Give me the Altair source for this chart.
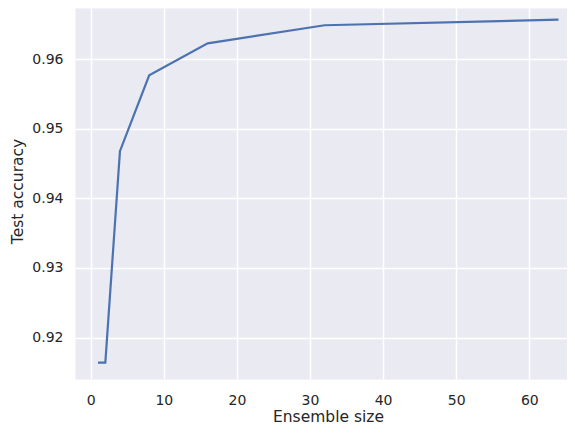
import altair as alt
import pandas as pd

ensemble_size = [1, 2, 4, 8, 16, 32, 64]
test_accuracy = [0.9164, 0.9164, 0.9468, 0.9577, 0.9623, 0.9649, 0.9657]
x_ticks = [0, 10, 20, 30, 40, 50, 60]
y_ticks = [0.92, 0.93, 0.94, 0.95, 0.96]

df = pd.DataFrame({"Ensemble size": ensemble_size, "Test accuracy": test_accuracy})

FONT = "DejaVu Sans"
TXT = "#262626"

chart = alt.Chart(df).mark_line(color="#4C72B0", strokeWidth=2.2).encode(
    x=alt.X(
        "Ensemble size:Q",
        scale=alt.Scale(domain=[-2.15, 65.16], nice=False, zero=False),
        axis=alt.Axis(
            values=x_ticks,
            title="Ensemble size",
            labelBaseline="alphabetic",
            labelPadding=25,
            titleX=253,
            titleY=42,
            titleBaseline="alphabetic",
            titleAlign="center",
        ),
    ),
    y=alt.Y(
        "Test accuracy:Q",
        scale=alt.Scale(domain=[0.91404, 0.96738], nice=False, zero=False),
        axis=alt.Axis(
            values=y_ticks,
            format=".2f",
            title="Test accuracy",
            labelPadding=12,
            titleAngle=270,
            titleX=-53,
            titleY=183,
            titleBaseline="alphabetic",
            titleAlign="center",
        ),
    ),
).properties(
    width=492,
    height=371,
    autosize=alt.AutoSizeParams(type="none"),
    padding={"left": 67, "top": 0, "right": 0, "bottom": 46},
).configure_view(
    fill="#EAEAF2", stroke="transparent"
).configure_axis(
    domain=False,
    ticks=False,
    grid=True,
    gridColor="white",
    gridWidth=1.5,
    labelFont=FONT,
    labelFontSize=14,
    labelColor=TXT,
    titleFont=FONT,
    titleFontSize=15.5,
    titleFontWeight="normal",
    titleColor=TXT,
)

chart.save("out.html", embed_options={"renderer": "svg", "actions": False})
